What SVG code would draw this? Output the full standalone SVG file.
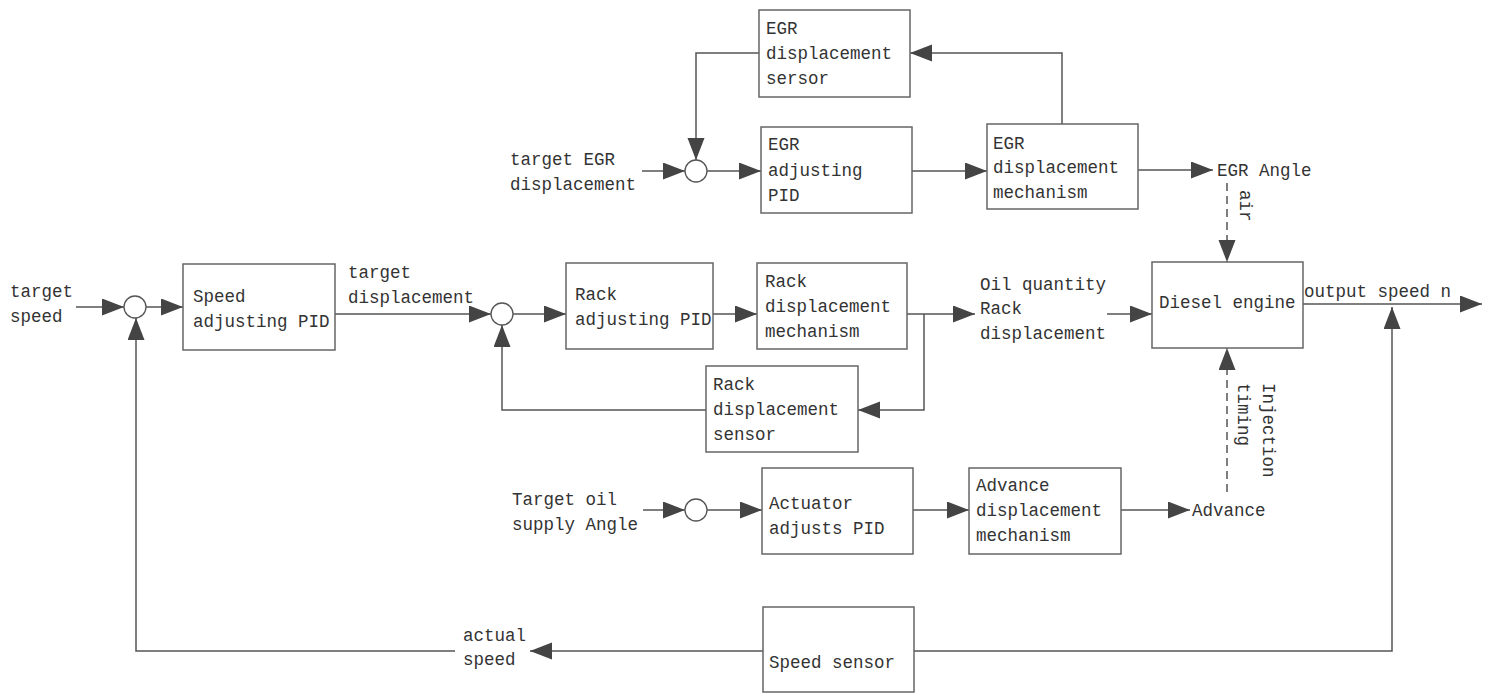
<svg xmlns="http://www.w3.org/2000/svg" width="1492" height="693" viewBox="0 0 1492 693">
<defs>
<marker id="ah" markerUnits="userSpaceOnUse" markerWidth="23" markerHeight="18" refX="22" refY="8.5" orient="auto">
<path d="M0,0 L22,8.5 L0,17 z" fill="#444"/>
</marker>
<style>
.box{fill:#fff;stroke:#666;stroke-width:1.5}
.sum{fill:#fff;stroke:#555;stroke-width:1.3}
.ln{fill:none;stroke:#555;stroke-width:1.5}
.ar{fill:none;stroke:#555;stroke-width:1.5;marker-end:url(#ah)}
.da{fill:none;stroke:#555;stroke-width:1.5;stroke-dasharray:8 5;marker-end:url(#ah)}
text{font-family:"Liberation Mono",monospace;font-size:17.5px;fill:#333}
</style>
</defs>
<rect width="1492" height="693" fill="#fff"/>

<g id="connectors">
<!-- EGR loop -->
<path class="ar" d="M642,171 L685,171"/>
<path class="ar" d="M707,171 L761,171"/>
<path class="ar" d="M912,171 L987,171"/>
<path class="ar" d="M1062,124 L1062,53 L910,53"/>
<path class="ar" d="M759,53 L696,53 L696,160"/>
<path class="ar" d="M1138,170 L1213,170"/>
<path class="da" d="M1227,183 L1227,262"/>
<!-- speed loop -->
<path class="ar" d="M76,307 L124,307"/>
<path class="ar" d="M146,307 L183,307"/>
<path class="ar" d="M335,314 L491,314"/>
<path class="ar" d="M513,314 L566,314"/>
<path class="ar" d="M713,314 L757,314"/>
<path class="ar" d="M907,314 L975,314"/>
<path class="ar" d="M924,314 L924,410 L858,410"/>
<path class="ar" d="M706,410 L502,410 L502,325"/>
<path class="ar" d="M1107,314 L1152,314"/>
<path class="ar" d="M1303,304 L1482,304"/>
<!-- advance loop -->
<path class="ar" d="M643,510 L685,510"/>
<path class="ar" d="M707,510 L762,510"/>
<path class="ar" d="M913,510 L969,510"/>
<path class="ar" d="M1121,510 L1190,510"/>
<path class="da" d="M1227,492 L1227,348"/>
<!-- speed sensor feedback -->
<path class="ar" d="M763,651 L530,651"/>
<path class="ar" d="M455,651 L136,651 L136,318"/>
<path class="ar" d="M913,651 L1392,651 L1392,307"/>
</g>

<g id="sum-egr"><circle class="sum" cx="696" cy="171" r="11"/></g>
<g id="sum-speed"><circle class="sum" cx="135" cy="307" r="11"/></g>
<g id="sum-rack"><circle class="sum" cx="502" cy="314" r="11"/></g>
<g id="sum-advance"><circle class="sum" cx="696" cy="510" r="11"/></g>

<g id="egr-sensor"><rect class="box" x="759" y="10" width="151" height="87"/>
<text x="766" y="34">EGR</text><text x="766" y="59">displacement</text><text x="766" y="84">sersor</text></g>
<g id="egr-pid"><rect class="box" x="761" y="127" width="151" height="86"/>
<text x="768" y="150">EGR</text><text x="768" y="176">adjusting</text><text x="768" y="201">PID</text></g>
<g id="egr-mech"><rect class="box" x="987" y="124" width="151" height="85"/>
<text x="993" y="149">EGR</text><text x="993" y="173">displacement</text><text x="993" y="198">mechanism</text></g>
<g id="target-egr"><text x="510" y="165">target EGR</text><text x="510" y="190">displacement</text></g>
<g id="egr-angle"><text x="1217" y="176">EGR Angle</text></g>
<g id="air-label"><text transform="translate(1240,190) rotate(90)">air</text></g>

<g id="target-speed"><text x="10" y="297">target</text><text x="10" y="322">speed</text></g>
<g id="speed-pid"><rect class="box" x="183" y="264" width="152" height="86"/>
<text x="193" y="302">Speed</text><text x="193" y="327">adjusting PID</text></g>
<g id="target-disp"><text x="348" y="278">target</text><text x="348" y="303">displacement</text></g>
<g id="rack-pid"><rect class="box" x="566" y="263" width="147" height="86"/>
<text x="575" y="300">Rack</text><text x="575" y="325">adjusting PID</text></g>
<g id="rack-mech"><rect class="box" x="757" y="263" width="150" height="86"/>
<text x="765" y="287">Rack</text><text x="765" y="312">displacement</text><text x="765" y="337">mechanism</text></g>
<g id="rack-sensor"><rect class="box" x="706" y="366" width="152" height="86"/>
<text x="713" y="390">Rack</text><text x="713" y="415">displacement</text><text x="713" y="440">sensor</text></g>
<g id="oil-qty"><text x="980" y="290">Oil quantity</text><text x="980" y="314">Rack</text><text x="980" y="339">displacement</text></g>
<g id="diesel"><rect class="box" x="1152" y="262" width="151" height="86"/>
<text x="1159" y="308">Diesel engine</text></g>
<g id="output-speed"><text x="1304" y="297">output speed n</text></g>
<g id="injection-label"><text transform="translate(1263,383) rotate(90)">Injection</text><text transform="translate(1238,383) rotate(90)">timing</text></g>

<g id="target-oil"><text x="512" y="505">Target oil</text><text x="512" y="530">supply Angle</text></g>
<g id="actuator-pid"><rect class="box" x="762" y="468" width="151" height="86"/>
<text x="769" y="509">Actuator</text><text x="769" y="534">adjusts PID</text></g>
<g id="advance-mech"><rect class="box" x="969" y="468" width="152" height="86"/>
<text x="976" y="491">Advance</text><text x="976" y="516">displacement</text><text x="976" y="541">mechanism</text></g>
<g id="advance"><text x="1192" y="516">Advance</text></g>

<g id="speed-sensor"><rect class="box" x="763" y="607" width="151" height="85"/>
<text x="769" y="668">Speed sensor</text></g>
<g id="actual-speed"><text x="463" y="641">actual</text><text x="463" y="665">speed</text></g>
</svg>
